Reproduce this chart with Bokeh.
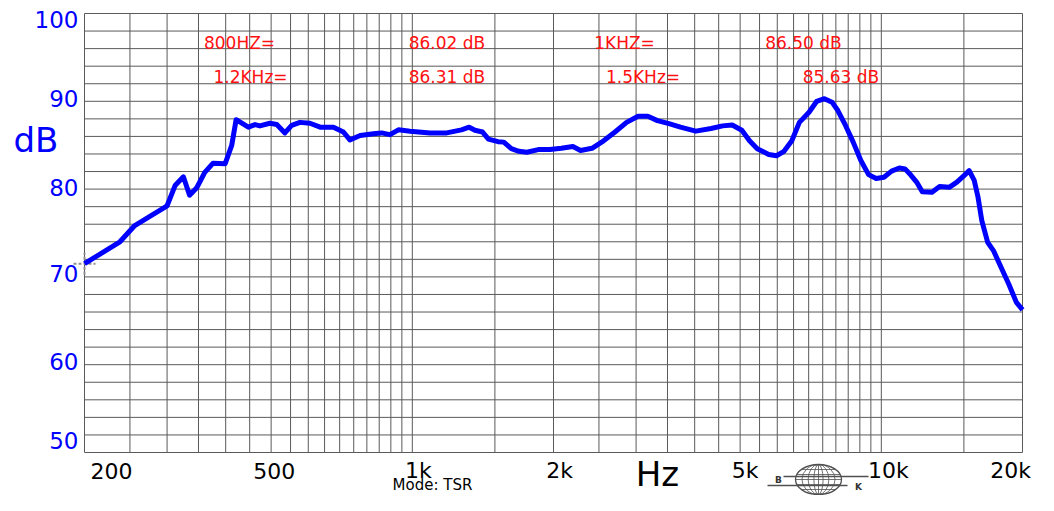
import math
from bokeh.plotting import figure
from bokeh.models import Range1d
from bokeh.core.properties import value
from bokeh.embed import file_html
from bokeh.resources import INLINE

# ---------------- data ----------------
freq_hz = [200, 238, 256, 274, 290, 300, 312, 325, 335, 347, 361, 376, 399, 412, 421,
           447, 462, 473, 497, 514, 535, 553, 576, 605, 636, 679, 713, 736, 774, 826,
           860, 896, 934, 989, 1091, 1184, 1273, 1322, 1360, 1412, 1453, 1523, 1567,
           1626, 1688, 1754, 1856, 1964, 2078, 2200, 2284, 2416, 2558, 2705, 2863,
           3029, 3178, 3332, 3526, 3730, 4022, 4334, 4588, 4809, 5042, 5236, 5438,
           5754, 5976, 6202, 6444, 6688, 7012, 7282, 7562, 7850, 8078, 8388, 8710,
           9044, 9394, 9750, 10130, 10516, 10922, 11234, 11558, 11892, 12228, 12824,
           13312, 13956, 14492, 15050, 15394, 15778, 16074, 16378, 16852, 17340,
           18000, 18692, 19410, 20000]
level_db = [71.5, 74.0, 75.85, 76.8, 77.6, 78.1, 80.4, 81.4, 79.3, 80.15, 81.9, 82.95,
            82.9, 84.97, 87.9, 87.05, 87.35, 87.2, 87.5, 87.35, 86.4, 87.25, 87.6, 87.5,
            87.05, 87.05, 86.5, 85.6, 86.1, 86.3, 86.4, 86.2, 86.75, 86.6, 86.4, 86.4,
            86.75, 87.05, 86.7, 86.5, 85.7, 85.4, 85.35, 84.6, 84.3, 84.2, 84.5, 84.5,
            84.65, 84.85, 84.4, 84.65, 85.5, 86.5, 87.6, 88.3, 88.3, 87.8, 87.45, 87.05,
            86.6, 86.9, 87.2, 87.3, 86.7, 85.5, 84.6, 83.95, 83.8, 84.3, 85.5, 87.6,
            88.75, 90.0, 90.3, 89.9, 88.95, 87.25, 85.35, 83.25, 81.65, 81.2, 81.35,
            82.05, 82.4, 82.3, 81.6, 80.8, 79.7, 79.65, 80.3, 80.2, 80.8, 81.6, 82.1,
            81.0, 79.1, 76.4, 73.95, 73.0, 71.1, 69.2, 67.1, 66.25]

x_tick_values = [200, 500, 1000, 2000, 5000, 10000, 20000]
x_tick_labels = ["200", "500", "1k", "2k", "5k", "10k", "20k"]
y_tick_values = [100, 90, 80, 70, 60, 50]
y_tick_labels = ["100", "90", "80", "70", "60", "50"]

readout_texts = ["800HZ=", "86.02 dB", "1KHZ=", "86.50 dB",
                 "1.2KHz=", "86.31 dB", "1.5KHz=", "85.63 dB"]

# grid (chart paper): every 50 Hz to 1k, every 500 Hz to 10k, then 15k/20k; every 2 dB
grid_x = list(range(200, 1000, 50)) + list(range(1000, 10000, 500)) + [10000, 15000, 20000]
grid_y = list(range(50, 101, 2))

# ---------------- layout (pixels) ----------------
W, H = 1038, 495
LEFT, RIGHT, TOP, BOTTOM = 84, 1022, 13, 452
F0, F1, D0, D1 = 200.0, 20000.0, 50.0, 100.0
PX_DEC = (RIGHT - LEFT) / math.log10(F1 / F0)
PX_DB = (BOTTOM - TOP) / (D1 - D0)


def fx(px):   # pixel column -> frequency (for placing decorations)
    return F0 * 10 ** ((px - LEFT) / PX_DEC)


def fy(py):   # pixel row -> level
    return D1 - (py - TOP) / PX_DB


readout_x = [fx(239), fx(446.5), fx(624), fx(803), fx(250), fx(446.5), fx(642.5), fx(840.5)]
readout_y = [fy(42)] * 4 + [fy(76.5)] * 4
x_label_offsets = [27, 3, 6, 6, 5, 7, -12]
y_label_offsets = [6, -3, -2, -3, -3, -12]

BLUE = "#0000ff"
GRID = "#5a5a5a"
FONT = value("DejaVu Sans")

p = figure(width=W, height=H, x_axis_type="log",
           x_range=Range1d(fx(0), fx(W)), y_range=Range1d(fy(H), fy(0)),
           x_axis_location=None, y_axis_location=None,
           output_backend="svg", toolbar_location=None,
           min_border=0)
p.grid.visible = False
p.outline_line_color = None
p.background_fill_color = "white"
p.border_fill_color = "white"

# chart paper
p.segment(x0=grid_x, y0=[D0] * len(grid_x), x1=grid_x, y1=[D1] * len(grid_x),
          line_color=GRID, line_width=1)
p.segment(x0=[F0] * len(grid_y), y0=grid_y, x1=[F1] * len(grid_y), y1=grid_y,
          line_color=GRID, line_width=1)

# start marker
p.scatter(x=[freq_hz[0]], y=[level_db[0]], marker="cross", size=22,
          line_color="#909090", line_width=2, line_dash="3 2")

# response curve
p.line(freq_hz, level_db, line_color=BLUE, line_width=5, line_join="round")

# red readouts
p.text(x=readout_x, y=readout_y, text=readout_texts, text_color="#ff1010",
       text_font=FONT, text_font_size="17px", text_align="center",
       text_baseline="middle")

# tick labels
p.text(x=x_tick_values, y=[fy(470)] * len(x_tick_values), text=x_tick_labels,
       x_offset=x_label_offsets, text_font=FONT, text_font_size="22px",
       text_color="black", text_align="center", text_baseline="middle")
p.text(x=[F0] * len(y_tick_values), y=y_tick_values, text=y_tick_labels,
       x_offset=-6, y_offset=y_label_offsets, text_font=FONT, text_font_size="23px",
       text_color=BLUE, text_align="right", text_baseline="middle")

# axis titles / mode note
p.text(x=[fx(13)], y=[fy(139)], text=["dB"], text_font=FONT, text_font_size="34px",
       text_color=BLUE, text_align="left", text_baseline="middle")
p.text(x=[fx(657)], y=[fy(473)], text=["Hz"], text_font=FONT, text_font_size="34px",
       text_color="black", text_align="center", text_baseline="middle")
p.text(x=[fx(432)], y=[fy(484)], text=["Mode: TSR"], text_font=FONT,
       text_font_size="15px", text_color="black", text_align="center",
       text_baseline="middle")

# ---------------- small B&K globe logo ----------------
LOGO = "#505050"
cx, cy, rx, ry = 818, 479, 23, 15
p.ellipse(x=[fx(cx)] * 4, y=[fy(cy)] * 4, width=[2 * rx, 1.44 * rx, 0.9 * rx, 0.4 * rx],
          height=[2 * ry] * 4, width_units="screen", height_units="screen",
          fill_alpha=0, line_color=LOGO, line_width=[1.3, 0.8, 0.8, 0.8])
par_dy = [-10, -5, 0, 5, 10]
par_hw = [rx * math.sqrt(1 - (d / ry) ** 2) for d in par_dy]
p.segment(x0=[fx(cx - h) for h in par_hw], y0=[fy(cy + d) for d in par_dy],
          x1=[fx(cx + h) for h in par_hw], y1=[fy(cy + d) for d in par_dy],
          line_color=LOGO, line_width=0.8)
p.segment(x0=[fx(cx)], y0=[fy(cy - ry)], x1=[fx(cx)], y1=[fy(cy + ry)],
          line_color=LOGO, line_width=0.8)
p.segment(x0=[fx(783), fx(767)], y0=[fy(476), fy(485)],
          x1=[fx(868), fx(847)], y1=[fy(476), fy(485)],
          line_color=LOGO, line_width=1.6)
p.text(x=[fx(778), fx(858)], y=[fy(479), fy(486)], text=["B", "K"], text_font=FONT,
       text_font_size="9px", text_font_style="bold", text_color="#333333",
       text_align="center", text_baseline="middle")

open("out.html", "w").write(file_html(p, INLINE))
